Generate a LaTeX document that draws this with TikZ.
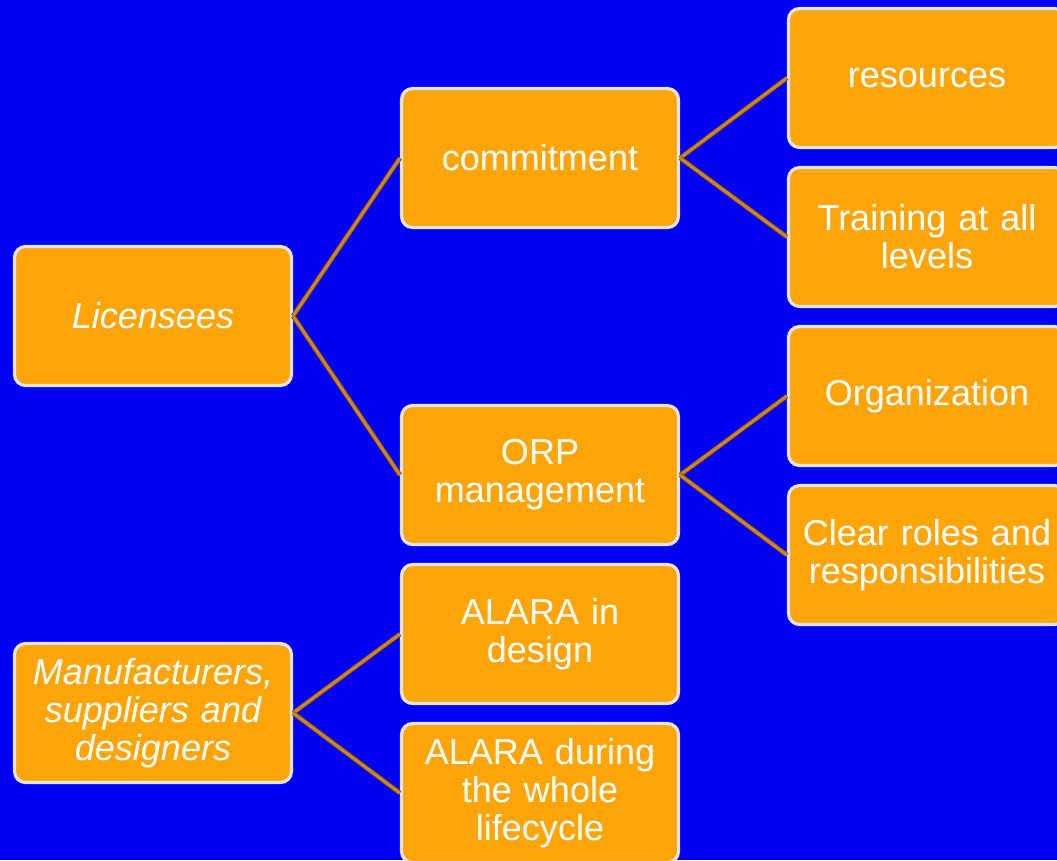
\documentclass[tikz,border=0pt]{standalone}
\usepackage{fontspec}
\setmainfont{Liberation Sans}
\usepackage{xcolor}
\usetikzlibrary{positioning}

\definecolor{bgblue}{RGB}{0,0,245}
\definecolor{boxorange}{RGB}{255,165,8}
\definecolor{boxrim}{RGB}{228,228,228}
\definecolor{linkcore}{RGB}{205,135,30}
\definecolor{linkedge}{RGB}{135,85,25}

\begin{document}
\begin{tikzpicture}[x=0.02cm,y=-0.02cm,
  topic/.style={draw=boxrim,line width=1.8pt,fill=boxorange,rounded corners=0.22cm,
    minimum width=5.54cm,minimum height=2.78cm,text width=5.4cm,align=center,
    text=white,font=\fontsize{20.5}{21.5}\selectfont,inner sep=0pt},
  lead/.style={topic,font=\fontsize{20.5}{21.5}\selectfont\itshape},
  link/.style={draw=linkedge,double=linkcore,double distance=1.6pt,line width=0.5pt}]
  % canvas
  \path[use as bounding box,fill=bgblue] (0,0) rectangle (1057,860);
  \clip (0,0) rectangle (1057,860);
  % first level
  \node[lead] (lic) at (153,316) {Licensees};
  \node[lead] (man) at (153,713) {Manufacturers,\\suppliers and\\designers};
  % second level
  \node[topic] (com) at (540,158) {commitment};
  \node[topic] (orp) at (540,475) {ORP\\management};
  \node[topic] (des) at (540,634) {ALARA in\\design};
  \node[topic] (life) at (540,793) {ALARA during\\the whole\\lifecycle};
  % third level
  \node[topic] (res) at (927,78) {resources};
  \node[topic] (tra) at (927,237) {Training at all\\levels};
  \node[topic] (org) at (927,396) {Organization};
  \node[topic] (rol) at (927,555) {Clear roles and\\responsibilities};
  % connectors
  \draw[link] (lic.east) -- (com.west);
  \draw[link] (lic.east) -- (orp.west);
  \draw[link] (com.east) -- (res.west);
  \draw[link] (com.east) -- (tra.west);
  \draw[link] (orp.east) -- (org.west);
  \draw[link] (orp.east) -- (rol.west);
  \draw[link] (man.east) -- (des.west);
  \draw[link] (man.east) -- (life.west);
\end{tikzpicture}
\end{document}
